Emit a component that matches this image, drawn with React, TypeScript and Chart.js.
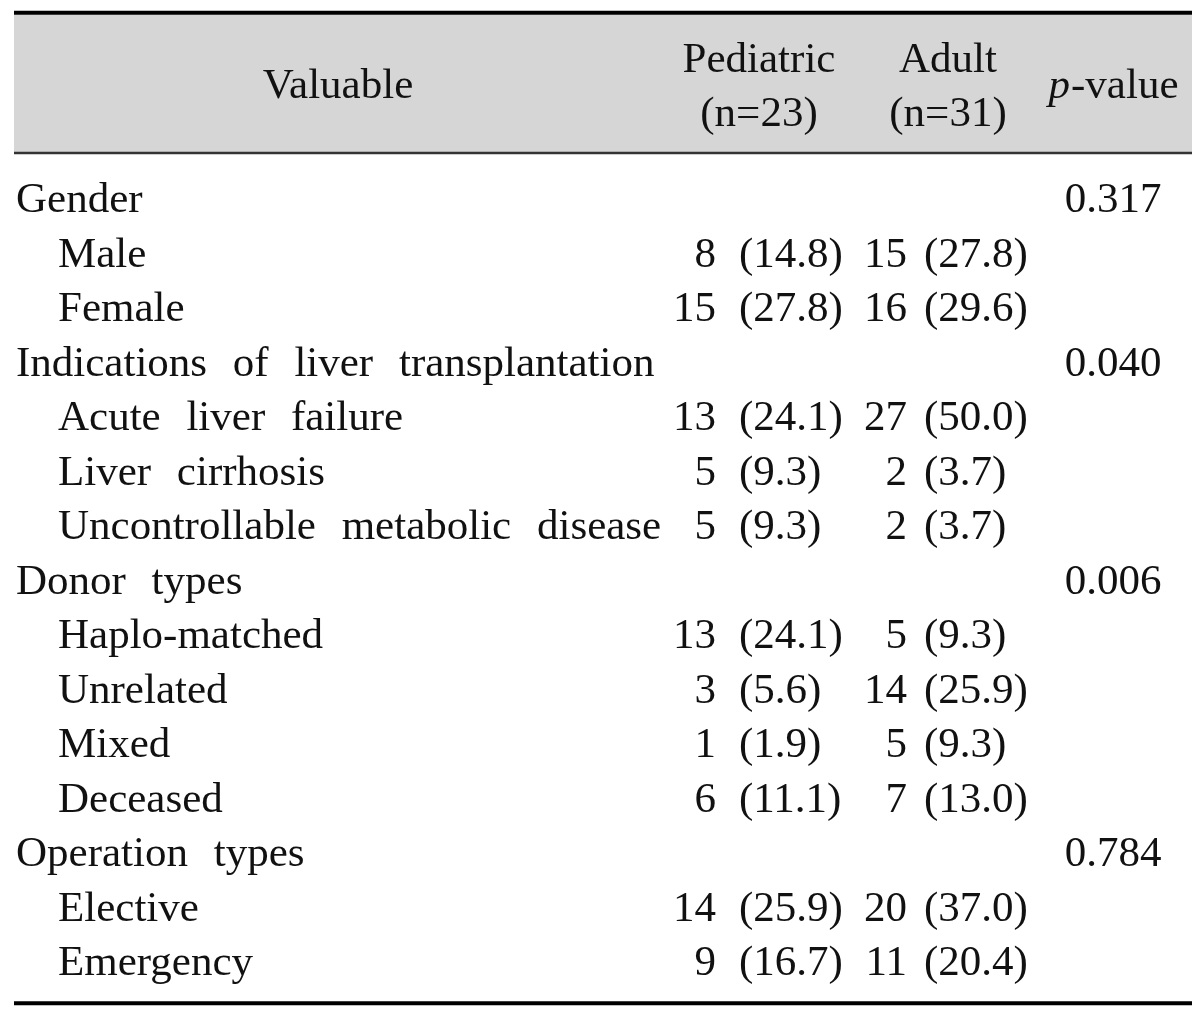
import React, { useEffect, useRef } from "react";
import { Chart, registerables } from "chart.js";

Chart.register(...registerables);

// ---- table data ----
const rowLabels = [
  "Gender",
  "Male",
  "Female",
  "Indications of liver transplantation",
  "Acute liver failure",
  "Liver cirrhosis",
  "Uncontrollable metabolic disease",
  "Donor types",
  "Haplo-matched",
  "Unrelated",
  "Mixed",
  "Deceased",
  "Operation types",
  "Elective",
  "Emergency",
];
const rowIndent = [0, 1, 1, 0, 1, 1, 1, 0, 1, 1, 1, 1, 0, 1, 1];
const pediatricN: (number | null)[] = [null, 8, 15, null, 13, 5, 5, null, 13, 3, 1, 6, null, 14, 9];
const pediatricPct: (string | null)[] = [null, "14.8", "27.8", null, "24.1", "9.3", "9.3", null, "24.1", "5.6", "1.9", "11.1", null, "25.9", "16.7"];
const adultN: (number | null)[] = [null, 15, 16, null, 27, 2, 2, null, 5, 14, 5, 7, null, 20, 11];
const adultPct: (string | null)[] = [null, "27.8", "29.6", null, "50.0", "3.7", "3.7", null, "9.3", "25.9", "9.3", "13.0", null, "37.0", "20.4"];
const pValues: (string | null)[] = ["0.317", null, null, "0.040", null, null, null, "0.006", null, null, null, null, "0.784", null, null];
const headerVariable = "Valuable";
const headerPediatric = ["Pediatric", "(n=23)"];
const headerAdult = ["Adult", "(n=31)"];
const headerP = ["p", "-value"];

// ---- layout (style only) ----
const FONT = "'Liberation Serif', 'Times New Roman', serif";
const FS = 43;
const COL = { group: 16, indent: 58, pedN: 716, pedPct: 739, adN: 907, adPct: 924, p: 1113, varC: 338, pedC: 759, adC: 948, ruleL: 14, ruleR: 1192 };

type Cell = { x: number; y: string; t: string };

function makeData(values: (string | number | null)[], xpos: number): Cell[] {
  const out: Cell[] = [];
  values.forEach((v, i) => {
    if (v !== null && v !== undefined) out.push({ x: xpos, y: rowLabels[i], t: String(v) });
  });
  return out;
}

const tablePlugin = {
  id: "tablePlugin",
  beforeDatasetsDraw(chart: any) {
    const ctx = chart.ctx as CanvasRenderingContext2D;
    const xs = chart.scales.x;
    const area = chart.chartArea;
    const L = xs.getPixelForValue(COL.ruleL);
    const R = xs.getPixelForValue(COL.ruleR);
    const top = area.top - 158;
    const headBottom = area.top - 18;
    ctx.save();
    ctx.fillStyle = "#d6d6d6";
    ctx.fillRect(L, top + 2, R - L, headBottom - top - 2);
    ctx.fillStyle = "#000";
    ctx.fillRect(L, top - 2, R - L, 4);
    ctx.fillStyle = "#333";
    ctx.fillRect(L, headBottom - 1, R - L, 2.5);
    ctx.fillStyle = "#000";
    ctx.fillRect(L, area.bottom + 13, R - L, 4);

    ctx.fillStyle = "#111";
    ctx.font = `${FS}px ${FONT}`;
    ctx.textBaseline = "alphabetic";
    ctx.textAlign = "center";
    const b1 = top + 59;
    const b2 = top + 113;
    const bm = top + 85;
    ctx.fillText(headerVariable, xs.getPixelForValue(COL.varC), bm);
    ctx.fillText(headerPediatric[0], xs.getPixelForValue(COL.pedC), b1);
    ctx.fillText(headerPediatric[1], xs.getPixelForValue(COL.pedC), b2);
    ctx.fillText(headerAdult[0], xs.getPixelForValue(COL.adC), b1);
    ctx.fillText(headerAdult[1], xs.getPixelForValue(COL.adC), b2);
    ctx.textAlign = "left";
    ctx.font = `italic ${FS}px ${FONT}`;
    const wp = ctx.measureText(headerP[0]).width;
    ctx.font = `${FS}px ${FONT}`;
    const wv = ctx.measureText(headerP[1]).width;
    const px = xs.getPixelForValue(COL.p) - (wp + wv) / 2;
    ctx.font = `italic ${FS}px ${FONT}`;
    ctx.fillText(headerP[0], px, bm);
    ctx.font = `${FS}px ${FONT}`;
    ctx.fillText(headerP[1], px + wp + 1, bm);
    ctx.restore();
  },
  afterDatasetsDraw(chart: any) {
    const ctx = chart.ctx as CanvasRenderingContext2D;
    ctx.save();
    ctx.fillStyle = "#111";
    ctx.font = `${FS}px ${FONT}`;
    ctx.textBaseline = "alphabetic";
    chart.data.datasets.forEach((ds: any, di: number) => {
      const meta = chart.getDatasetMeta(di);
      ctx.textAlign = ds.textAlign;
      (ctx as any).wordSpacing = ds.wordSpacing || "0px";
      meta.data.forEach((el: any, j: number) => {
        const cell = ds.data[j] as Cell;
        ctx.fillText(cell.t, el.x, el.y + 14);
      });
    });
    (ctx as any).wordSpacing = "0px";
    ctx.restore();
  },
};

export default function App() {
  const ref = useRef<HTMLCanvasElement | null>(null);
  useEffect(() => {
    document.body.style.margin = "0";
    const canvas = ref.current;
    if (!canvas) return;
    const labelCells: Cell[] = rowLabels.map((t, i) => ({ x: rowIndent[i] ? COL.indent : COL.group, y: t, t }));
    const pedPctCells = makeData(pediatricPct.map((v) => (v === null ? null : `(${v})`)), COL.pedPct);
    const adPctCells = makeData(adultPct.map((v) => (v === null ? null : `(${v})`)), COL.adPct);
    const mk = (data: Cell[], textAlign: string, wordSpacing?: string) => ({
      data,
      textAlign,
      wordSpacing,
      pointRadius: 0,
      pointHoverRadius: 0,
      showLine: false,
    });
    const chart = new Chart(canvas, {
      type: "scatter",
      data: {
        labels: rowLabels,
        datasets: [
          mk(labelCells, "left", "15px"),
          mk(makeData(pediatricN, COL.pedN), "right"),
          mk(pedPctCells, "left"),
          mk(makeData(adultN, COL.adN), "right"),
          mk(adPctCells, "left"),
          mk(makeData(pValues, COL.p), "center"),
        ] as any,
      },
      options: {
        animation: false,
        responsive: false,
        devicePixelRatio: 1,
        layout: { padding: { top: 170.75, bottom: 24.75, left: 0, right: 0 } },
        plugins: { legend: { display: false }, tooltip: { enabled: false } },
        events: [],
        scales: {
          x: { type: "linear", min: 0, max: 1200, display: false },
          y: {
            type: "category",
            labels: rowLabels,
            offset: true,
            display: false,
          },
        },
      } as any,
      plugins: [tablePlugin],
    });
    return () => chart.destroy();
  }, []);
  return (
    <div style={{ width: 1200, height: 1013, background: "#fff" }}>
      <canvas ref={ref} width={1200} height={1013} style={{ display: "block", width: 1200, height: 1013 }} />
    </div>
  );
}
